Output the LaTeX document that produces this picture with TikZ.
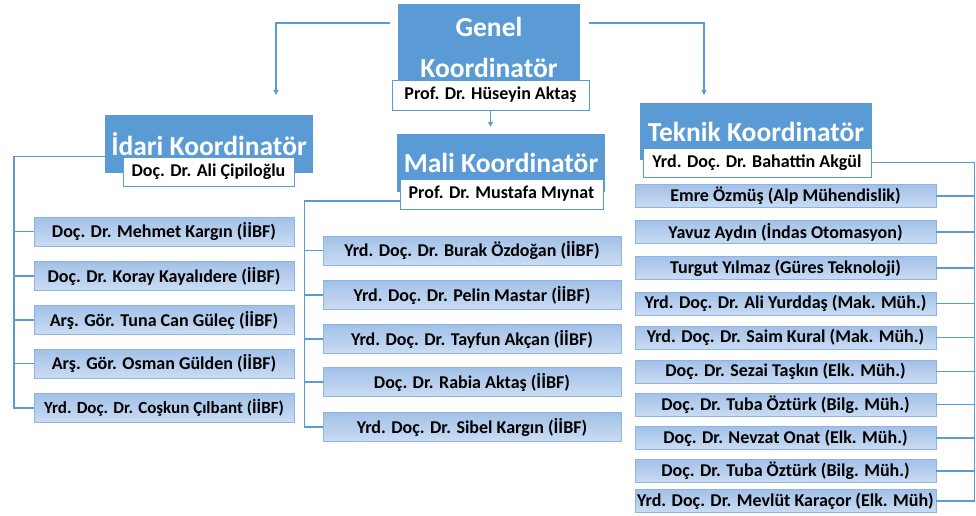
\documentclass[tikz,border=0pt]{standalone}
\usepackage{fontspec}
\setmainfont{Carlito}
\usepackage{xcolor}
\usetikzlibrary{arrows.meta}

\definecolor{boxblue}{HTML}{5B9BD5}
\definecolor{membertop}{HTML}{A2C1E8}
\definecolor{memberbot}{HTML}{CADCF2}
\definecolor{memberline}{HTML}{8EB4E3}

\begin{document}
\begin{tikzpicture}[x=1pt,y=-1pt,
  titlebox/.style={fill=boxblue, text=white, inner sep=0pt, align=center,
    font=\fontsize{27.5}{41}\selectfont\bfseries},
  namebox/.style={fill=white, draw=boxblue, line width=.6pt, inner sep=0pt,
    font=\fontsize{18}{20}\selectfont\bfseries},
  member/.style={top color=membertop, bottom color=memberbot, draw=memberline,
    line width=.6pt, inner sep=0pt, font=\fontsize{18}{20}\selectfont\bfseries},
  conn/.style={draw=boxblue, line width=1.4pt},
  arr/.style={conn, -{Triangle[length=5pt,width=5pt]}}]
\useasboundingbox (0,0) rectangle (976,516);

% coordinators
\node[titlebox, minimum width=182, minimum height=87] (genel) at (489,47.5) {Genel\\Koordinatör};
\node[namebox, minimum width=197, minimum height=30] (huseyin) at (490.5,95) {Prof. Dr. Hüseyin Aktaş};

\node[titlebox, minimum width=208, minimum height=58] (idari) at (209,144) {İdari Koordinatör};
\node[namebox, minimum width=171, minimum height=29] (ali) at (208.5,171.5) {Doç. Dr. Ali Çipiloğlu};

\node[titlebox, minimum width=208, minimum height=58] (mali) at (501,163) {Mali Koordinatör};
\node[namebox, minimum width=203, minimum height=30] (mustafa) at (501.5,194) {Prof. Dr. Mustafa Mıynat};

\node[titlebox, minimum width=232, minimum height=57] (teknik) at (756,131.5) {Teknik Koordinatör};
\node[namebox, minimum width=228, minimum height=29] (bahattin) at (757,162.5) {Yrd. Doç. Dr. Bahattin Akgül};

\coordinate (idaritip) at (276,95);
\coordinate (teknikip) at (704,95);
\draw[arr] (390,23) -| (idaritip);
\draw[arr] (589,23) -| (teknikip);
\draw[arr] (huseyin.south) -- ([yshift=7pt]huseyin.south |- mali.north);

% idari
\foreach \y/\t [count=\k] in {231.5/{Doç. Dr. Mehmet Kargın (İİBF)},
    276/{Doç. Dr. Koray Kayalıdere (İİBF)}, 320/{Arş. Gör. Tuna Can Güleç (İİBF)},
    363.5/{Arş. Gör. Osman Gülden (İİBF)}, 408/{\fontsize{17}{20}\selectfont Yrd. Doç. Dr. Coşkun Çılbant (İİBF)}}
  \node[member, minimum width=260, minimum height=29] (i\k) at (164,\y) {\t};
\draw[conn] (idari.west |- ali.north) -- ++(-91,0) |- (i5.west);
\foreach \k in {1,...,4} \draw[conn] (i\k.west) -- ++(-20,0);

% mali
\foreach \y/\t [count=\k] in {250.5/{Yrd. Doç. Dr. Burak Özdoğan (İİBF)},
    295/{Yrd. Doç. Dr. Pelin Mastar (İİBF)}, 339/{Yrd. Doç. Dr. Tayfun Akçan (İİBF)},
    382/{Doç. Dr. Rabia Aktaş (İİBF)}, 427/{Yrd. Doç. Dr. Sibel Kargın (İİBF)}}
  \node[member, minimum width=298, minimum height=29] (m\k) at (472,\y) {\t};
\draw[conn] ([yshift=-7pt]mustafa.west) -- ++(-95,0) |- (m5.west);
\foreach \k in {1,...,4} \draw[conn] (m\k.west) -- ++(-18,0);

% teknik
\foreach \y/\t [count=\k] in {196/{Emre Özmüş (Alp Mühendislik)},
    232/{Yavuz Aydın (İndas Otomasyon)}, 268/{Turgut Yılmaz (Güres Teknoloji)},
    303.5/{Yrd. Doç. Dr. Ali Yurddaş (Mak. Müh.)}, 337.5/{Yrd. Doç. Dr. Saim Kural (Mak. Müh.)},
    371.5/{Doç. Dr. Sezai Taşkın (Elk. Müh.)}, 404.5/{Doç. Dr. Tuba Öztürk (Bilg. Müh.)},
    438/{Doç. Dr. Nevzat Onat (Elk. Müh.)}, 471/{Doç. Dr. Tuba Öztürk (Bilg. Müh.)},
    501/{Yrd. Doç. Dr. Mevlüt Karaçor (Elk. Müh)}}
  \node[member, minimum width=301, minimum height=23] (t\k) at (785.5,\y) {\t};
\draw[conn] (bahattin.east) -- ++(103,0) |- (t10.east);
\foreach \k in {1,...,9} \draw[conn] (t\k.east) -- ++(38,0);
\end{tikzpicture}
\end{document}
